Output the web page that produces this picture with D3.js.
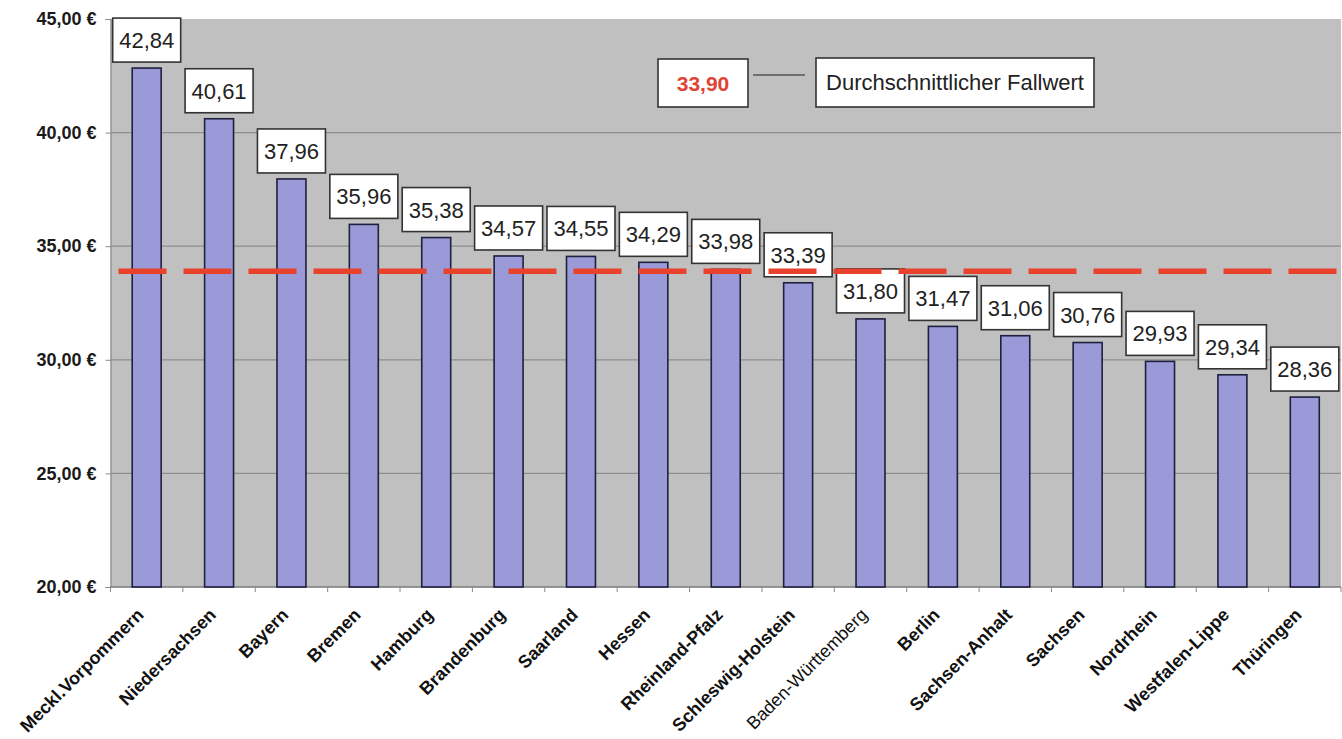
<!DOCTYPE html>
<html>
<head>
<meta charset="utf-8">
<script src="https://cdn.jsdelivr.net/npm/d3@7"></script>
<style>
  html, body { margin: 0; padding: 0; background: #fff; }
  svg { display: block; font-family: "Liberation Sans", Arial, sans-serif; }
</style>
</head>
<body>
<svg id="chart" width="1342" height="739"></svg>
<script>
// Fallwerte je KV-Bereich (Euro)
const regions = ["Meckl.Vorpommern", "Niedersachsen", "Bayern", "Bremen", "Hamburg",
  "Brandenburg", "Saarland", "Hessen", "Rheinland-Pfalz", "Schleswig-Holstein",
  "Baden-Württemberg", "Berlin", "Sachsen-Anhalt", "Sachsen", "Nordrhein",
  "Westfalen-Lippe", "Thüringen"];
const values = [42.84, 40.61, 37.96, 35.96, 35.38, 34.57, 34.55, 34.29, 33.98, 33.39,
  31.80, 31.47, 31.06, 30.76, 29.93, 29.34, 28.36];
const average = 33.90;
const averageLabel = "Durchschnittlicher Fallwert";
const yTicks = [20, 25, 30, 35, 40, 45];
// regions whose axis label is set in regular weight
const regularLabels = ["Baden-Württemberg"];

const fmt = v => v.toFixed(2).replace(".", ",");

const svg = d3.select("#chart");
const plotLeft = 110.5, plotRight = 1341, plotTop = 19, plotBottom = 587;

const x = d3.scaleBand().domain(regions).range([plotLeft, plotRight])
  .paddingInner(0.6).paddingOuter(0.3);
const y = d3.scaleLinear().domain([20, 45]).range([plotBottom, plotTop]);

// plot background
svg.append("rect")
  .attr("x", plotLeft).attr("y", plotTop)
  .attr("width", plotRight - plotLeft).attr("height", plotBottom - plotTop)
  .attr("fill", "#c0c0c0");

// horizontal gridlines
svg.append("g").selectAll("line")
  .data(yTicks.filter(t => t > 20 && t < 45))
  .join("line")
  .attr("x1", plotLeft).attr("x2", plotRight)
  .attr("y1", d => y(d)).attr("y2", d => y(d))
  .attr("stroke", "#8e8e8e").attr("stroke-width", 1.2);

// y axis
const yAxis = svg.append("g")
  .attr("transform", `translate(${plotLeft},0)`)
  .call(d3.axisLeft(y).tickValues(yTicks).tickSize(5).tickPadding(9)
    .tickFormat(d => fmt(d) + " €"));
yAxis.select(".domain").attr("stroke", "#8a8a8a").attr("stroke-width", 1.2);
yAxis.selectAll(".tick line").attr("stroke", "#8a8a8a");
yAxis.selectAll(".tick text")
  .attr("font-family", "'Liberation Sans', Arial, sans-serif")
  .attr("font-size", 18).attr("font-weight", "bold").attr("fill", "#1a1a1a");

// x axis line with ticks between categories
const boundaries = d3.range(regions.length + 1).map(i => plotLeft + i * x.step());
svg.append("line")
  .attr("x1", plotLeft).attr("x2", plotRight)
  .attr("y1", plotBottom).attr("y2", plotBottom)
  .attr("stroke", "#7a7a7a").attr("stroke-width", 1.5);
svg.append("g").selectAll("line")
  .data(boundaries)
  .join("line")
  .attr("x1", d => d).attr("x2", d => d)
  .attr("y1", plotBottom).attr("y2", plotBottom + 5)
  .attr("stroke", "#8a8a8a");

// category labels
svg.append("g").selectAll("text")
  .data(regions)
  .join("text")
  .attr("transform", d => `translate(${x(d) + x.bandwidth() / 2 - 2},${plotBottom + 29}) rotate(-45)`)
  .attr("text-anchor", "end")
  .attr("font-size", 18)
  .attr("font-weight", d => regularLabels.includes(d) ? "normal" : "bold")
  .attr("fill", "#111")
  .text(d => d);

// bars
const data = regions.map((r, i) => ({ region: r, value: values[i] }));
svg.append("g").selectAll("rect")
  .data(data)
  .join("rect")
  .attr("x", d => x(d.region))
  .attr("y", d => y(d.value))
  .attr("width", x.bandwidth())
  .attr("height", d => plotBottom - y(d.value))
  .attr("fill", "#9a9ad8")
  .attr("stroke", "#1f1f3f").attr("stroke-width", 1.6);

// value boxes
const boxW = 68, boxH = 44;
const boxes = svg.append("g").selectAll("g")
  .data(data)
  .join("g")
  .attr("transform", d => `translate(${x(d.region) + x.bandwidth() / 2 - boxW / 2},${y(d.value) - 6 - boxH})`);
boxes.append("rect")
  .attr("width", boxW).attr("height", boxH)
  .attr("fill", "#fff").attr("stroke", "#333").attr("stroke-width", 1.6);
boxes.append("text")
  .attr("x", boxW / 2).attr("y", boxH / 2 + 8)
  .attr("text-anchor", "middle")
  .attr("font-size", 22).attr("fill", "#222")
  .text(d => fmt(d.value));

// average line
svg.append("line")
  .attr("x1", plotLeft).attr("x2", plotRight)
  .attr("y1", y(average)).attr("y2", y(average))
  .attr("stroke", "#e8412c").attr("stroke-width", 5.5)
  .attr("stroke-dasharray", "48 17").attr("stroke-dashoffset", 57);

// average annotation
const ann = svg.append("g");
ann.append("rect")
  .attr("x", 658).attr("y", 59).attr("width", 90).attr("height", 48)
  .attr("fill", "#fff").attr("stroke", "#333").attr("stroke-width", 1.6);
ann.append("text")
  .attr("x", 703).attr("y", 91)
  .attr("text-anchor", "middle")
  .attr("font-size", 21).attr("font-weight", "bold").attr("fill", "#e04434")
  .text(fmt(average));
ann.append("line")
  .attr("x1", 753).attr("x2", 805).attr("y1", 75).attr("y2", 75)
  .attr("stroke", "#555").attr("stroke-width", 1.5);
ann.append("rect")
  .attr("x", 816).attr("y", 58).attr("width", 278).attr("height", 49)
  .attr("fill", "#fff").attr("stroke", "#333").attr("stroke-width", 1.6);
ann.append("text")
  .attr("x", 955).attr("y", 90)
  .attr("text-anchor", "middle")
  .attr("font-size", 22).attr("fill", "#222")
  .text(averageLabel);
</script>
</body>
</html>
